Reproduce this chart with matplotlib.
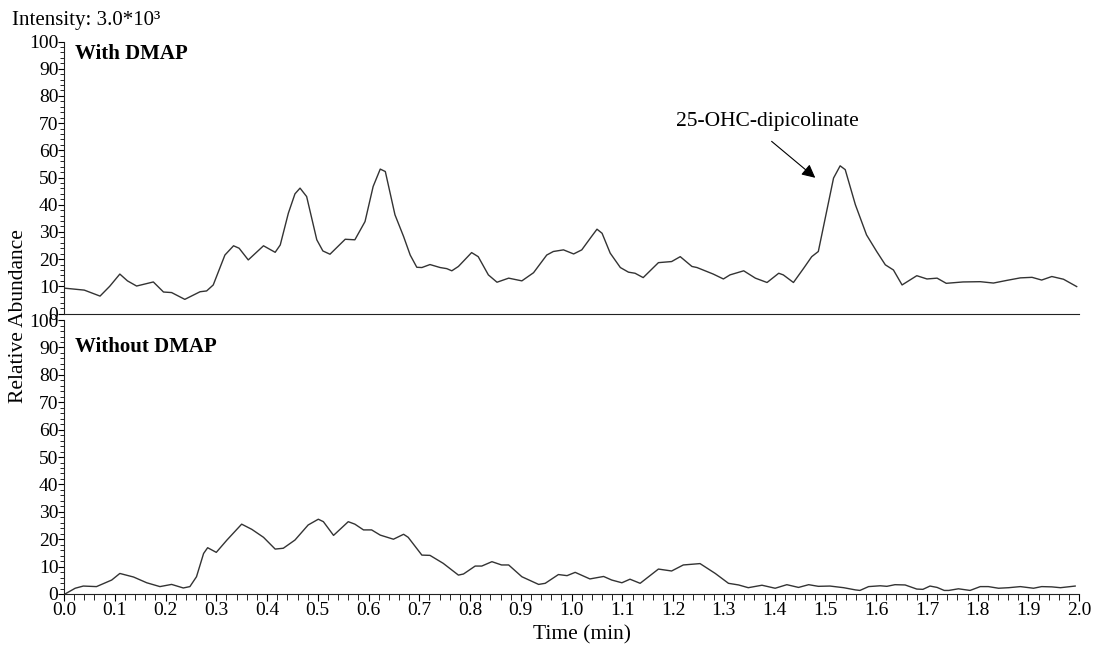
import matplotlib
matplotlib.use("Agg")
import matplotlib.pyplot as plt
from matplotlib.ticker import MultipleLocator

plt.rcParams['font.family'] = ['Liberation Serif', 'DejaVu Serif']

# top trace: with DMAP
t_with = [0.002, 0.04, 0.071, 0.090, 0.110, 0.125, 0.143, 0.176, 0.196, 0.212, 0.238, 0.268,
          0.281, 0.294, 0.317, 0.334, 0.345, 0.363, 0.393, 0.416, 0.426, 0.442, 0.455, 0.465,
          0.478, 0.498, 0.510, 0.524, 0.554, 0.573, 0.593, 0.609, 0.623, 0.633, 0.652,
          0.669, 0.682, 0.695, 0.705, 0.721, 0.741, 0.754, 0.764, 0.777, 0.803,
          0.816, 0.836, 0.853, 0.876, 0.902, 0.925, 0.951, 0.964, 0.984, 1.004,
          1.020, 1.038, 1.050, 1.060, 1.076, 1.096, 1.112, 1.125, 1.141, 1.171, 1.197,
          1.214, 1.237, 1.247, 1.279, 1.299, 1.312, 1.339, 1.362, 1.385, 1.408,
          1.417, 1.437, 1.457, 1.473, 1.486, 1.503, 1.516, 1.529, 1.539, 1.559,
          1.581, 1.601, 1.618, 1.634, 1.651, 1.680, 1.700, 1.720, 1.738, 1.771,
          1.805, 1.831, 1.858, 1.884, 1.907, 1.926, 1.946, 1.969, 1.995]
v_with = [9.3, 8.6, 6.4, 10.0, 14.5, 12.0, 10.1, 11.6, 7.9, 7.7, 5.2, 8.0,
          8.3, 10.5, 21.5, 24.9, 24.0, 19.7, 24.9, 22.5, 25.2, 36.9, 44.0, 46.1,
          43.0, 27.1, 23.0, 21.8, 27.3, 27.1, 33.8, 46.7, 53.1, 52.2, 36.3,
          28.3, 21.5, 17.0, 16.9, 18.0, 16.9, 16.5, 15.7, 17.3, 22.4,
          20.9, 14.2, 11.5, 13.0, 12.0, 15.0, 21.5, 22.8, 23.4, 21.9,
          23.4, 28.0, 31.0, 29.5, 22.2, 16.9, 15.2, 14.8, 13.2, 18.7, 19.1,
          20.9, 17.3, 16.9, 14.5, 12.7, 14.2, 15.7, 13.0, 11.4, 14.8,
          14.2, 11.4, 16.6, 20.9, 22.8, 38.1, 49.8, 54.3, 52.9, 40.0,
          28.9, 22.8, 17.9, 16.0, 10.5, 13.9, 12.7, 13.0, 11.1, 11.6,
          11.7, 11.2, 12.2, 13.1, 13.3, 12.3, 13.6, 12.6, 9.9]

# bottom trace: without DMAP
t_without = [0.002, 0.022, 0.038, 0.064, 0.094, 0.110, 0.137, 0.163, 0.189, 0.212,
             0.235, 0.248, 0.261, 0.275, 0.283, 0.300, 0.321, 0.350, 0.370, 0.393,
             0.416, 0.432, 0.455, 0.481, 0.501, 0.511, 0.531, 0.560, 0.573, 0.590,
             0.606, 0.623, 0.649, 0.669, 0.678, 0.705, 0.721, 0.747, 0.777, 0.787,
             0.810, 0.823, 0.843, 0.862, 0.876, 0.902, 0.935, 0.948, 0.974, 0.991,
             1.007, 1.036, 1.063, 1.079, 1.099, 1.115, 1.135, 1.171, 1.197, 1.220,
             1.253, 1.283, 1.309, 1.329, 1.348, 1.375, 1.401, 1.424, 1.447, 1.467,
             1.486, 1.509, 1.536, 1.559, 1.568, 1.585, 1.608, 1.621, 1.637, 1.657,
             1.680, 1.692, 1.706, 1.720, 1.734, 1.743, 1.762, 1.785, 1.805, 1.821,
             1.841, 1.861, 1.884, 1.910, 1.926, 1.946, 1.963, 1.992]
v_without = [0.0, 2.1, 2.9, 2.7, 5.1, 7.5, 6.2, 4.1, 2.7, 3.5,
             2.2, 2.7, 6.3, 14.8, 16.9, 15.2, 19.7, 25.5, 23.6, 20.7,
             16.4, 16.7, 19.7, 25.2, 27.3, 26.4, 21.4, 26.4, 25.5, 23.4,
             23.4, 21.5, 20.0, 21.8, 20.7, 14.2, 14.1, 11.2, 6.9, 7.3,
             10.2, 10.2, 11.8, 10.6, 10.6, 6.3, 3.5, 3.9, 7.1, 6.7,
             7.9, 5.5, 6.4, 5.1, 4.1, 5.4, 3.9, 9.1, 8.4, 10.6,
             11.1, 7.5, 3.9, 3.3, 2.3, 3.2, 2.1, 3.4, 2.4, 3.4,
             2.8, 2.9, 2.3, 1.5, 1.3, 2.7, 3.0, 2.8, 3.4, 3.3,
             1.8, 1.7, 2.9, 2.4, 1.3, 1.3, 1.9, 1.3, 2.7, 2.7,
             2.1, 2.3, 2.7, 2.1, 2.7, 2.6, 2.3, 2.9]

line_color = '#333333'

fig = plt.figure(figsize=(10.94, 6.46), dpi=100)
ax1 = fig.add_axes([0.0585, 0.5147, 0.928, 0.421])
ax2 = fig.add_axes([0.0585, 0.0805, 0.928, 0.424])

for ax in (ax1, ax2):
    ax.set_xlim(0, 2.0)
    ax.set_ylim(0, 100)
    ax.spines['top'].set_visible(False)
    ax.spines['right'].set_visible(False)
    ax.spines['left'].set_color('#222222')
    ax.spines['bottom'].set_color('#222222')
    ax.yaxis.set_major_locator(MultipleLocator(10))
    ax.yaxis.set_minor_locator(MultipleLocator(2))
    ax.tick_params(axis='y', which='major', length=4, width=0.8, pad=0, labelsize=14)
    ax.tick_params(axis='y', which='minor', length=3, width=0.6)

ax1.plot(t_with, v_with, color=line_color, lw=1.0)
ax2.plot(t_without, v_without, color=line_color, lw=1.0)

# top panel: no x ticks
ax1.tick_params(axis='x', which='both', bottom=False, labelbottom=False)

ax2.xaxis.set_major_locator(MultipleLocator(0.1))
ax2.xaxis.set_minor_locator(MultipleLocator(0.02))
ax2.xaxis.set_major_formatter(matplotlib.ticker.FormatStrFormatter('%.1f'))
ax2.tick_params(axis='x', which='major', length=5, width=0.8, pad=1, labelsize=14)
ax2.tick_params(axis='x', which='minor', length=4, width=0.6)

ax1.text(0.011, 0.955, 'With DMAP', transform=ax1.transAxes, fontsize=15,
         fontweight='bold', va='center', ha='left')
ax2.text(0.011, 0.9, 'Without DMAP', transform=ax2.transAxes, fontsize=15,
         fontweight='bold', va='center', ha='left')

ax1.text(1.385, 70.5, '25-OHC-dipicolinate', fontsize=15.5, ha='center', va='center')
ax1.annotate('', xy=(1.480, 49.9), xytext=(1.394, 63.3),
             arrowprops=dict(arrowstyle='-|>', color='black', lw=0.8,
                             mutation_scale=20, shrinkA=0, shrinkB=0))

fig.text(0.011, 0.969, 'Intensity: 3.0*10³', fontsize=15, ha='left', va='center')
fig.text(0.017, 0.51, 'Relative Abundance', fontsize=15.5, rotation=90,
         ha='center', va='center')
fig.text(0.532, 0.018, 'Time (min)', fontsize=15.5, ha='center', va='center')

plt.savefig('out.png', dpi=100)
